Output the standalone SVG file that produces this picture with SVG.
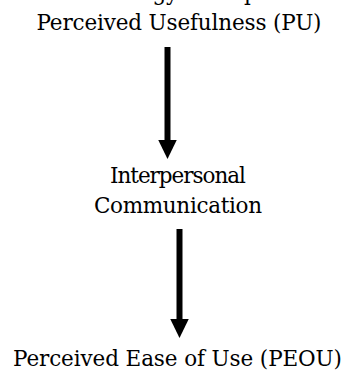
<svg xmlns="http://www.w3.org/2000/svg" width="345" height="371" viewBox="0 0 345 371">
  <style>
    .lbl { font-family: 'DejaVu Serif', serif; font-size: 21.5px; fill: #000; text-anchor: middle; }
    .conn { stroke: #000; stroke-width: 6; fill: none; }
  </style>
  <defs>
    <marker id="head" markerUnits="userSpaceOnUse" markerWidth="19" markerHeight="19" refX="0" refY="9.25" orient="auto" viewBox="0 0 19 18.5">
      <path d="M0,0 L19,9.25 L0,18.5 Z" fill="#000"/>
    </marker>
  </defs>
  <rect width="345" height="371" fill="#fff"/>

  <!-- heading line running off the top edge -->
  <text class="lbl" x="178" y="-0.5" textLength="242">Technology Perception</text>

  <g id="node-pu">
    <text class="lbl" x="179" y="30" textLength="285">Perceived Usefulness (PU)</text>
  </g>

  <g id="node-ic">
    <text class="lbl" x="178" y="183" textLength="136">Interpersonal</text>
    <text class="lbl" x="178" y="213" textLength="168">Communication</text>
  </g>

  <g id="node-peou">
    <text class="lbl" x="177.5" y="366" textLength="329">Perceived Ease of Use (PEOU)</text>
  </g>

  <g id="connectors">
    <line class="conn" x1="167.5" y1="47" x2="167.5" y2="140" marker-end="url(#head)"/>
    <line class="conn" x1="179.5" y1="229" x2="179.5" y2="319" marker-end="url(#head)"/>
  </g>
</svg>
